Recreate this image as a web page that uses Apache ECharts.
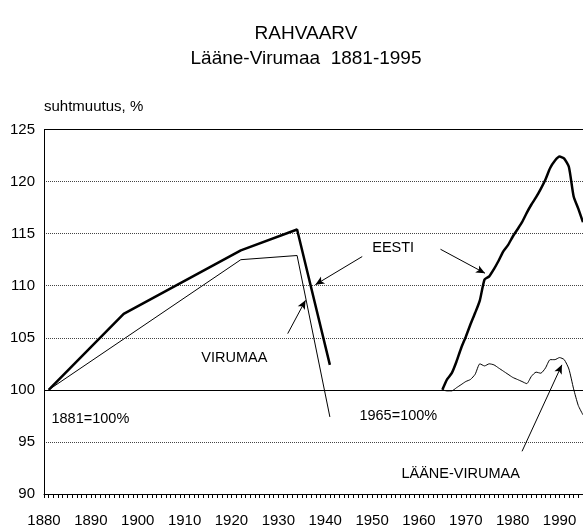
<!DOCTYPE html>
<html><head><meta charset="utf-8">
<script src="https://cdn.jsdelivr.net/npm/echarts@6/dist/echarts.min.js"></script>
<style>html,body{margin:0;padding:0;background:#fff}#c{width:583px;height:530px}</style>
</head><body><div id="c"></div>
<script>
const FONT = "'Liberation Sans', Arial, sans-serif";

// 1881 = 100% (census years)
const yearsEesti1881 = [1881, 1897, 1922, 1934, 1941];
const eesti1881 = [100, 107.3, 113.4, 115.4, 102.4];
const yearsVirumaa1881 = [1881, 1922, 1934, 1941];
const virumaa1881 = [100, 112.5, 112.9, 97.4];

// 1965 = 100%
const years1965 = [1965,1966,1967,1968,1969,1970,1971,1972,1973,1974,1975,1976,1977,1978,1979,1980,
                   1981,1982,1983,1984,1985,1986,1987,1988,1989,1990,1991,1992,1993,1994,1995];
const eesti1965 = [100.0,101.0,101.6,102.7,104.0,105.1,106.3,107.4,108.6,110.6,110.9,111.6,112.4,113.3,113.9,114.7,
                   115.4,116.1,117.0,117.8,118.5,119.3,120.2,121.3,122.0,122.4,122.2,121.4,118.6,117.4,116.1];
const laaneVirumaa1965 = [100.0,99.9,99.9,100.2,100.5,100.8,101.0,101.5,102.5,102.3,102.5,102.4,102.1,101.8,101.5,101.2,
                   101.0,100.8,100.6,101.3,101.7,101.6,102.1,102.9,102.9,103.1,102.9,102.0,100.1,98.5,97.6];

// axis ticks
const yTicks = [90, 95, 100, 105, 110, 115, 120, 125];
const xTicks = [1880, 1890, 1900, 1910, 1920, 1930, 1940, 1950, 1960, 1970, 1980, 1990, 2000];

// annotation texts (data coordinates of their centres)
const noteTexts = ['EESTI', 'VIRUMAA', '1881=100%', '1965=100%', 'LÄÄNE-VIRUMAA'];
const noteCoords = [[1954.5, 113.6], [1920.6, 103.1], [1889.9, 97.2], [1955.6, 97.5], [1968.9, 91.9]];
// arrows: [from, to]
const arrowFrom = [[1947.9, 112.8], [1964.6, 113.5], [1932.0, 105.4], [1982.0, 94.1]];
const arrowTo   = [[1937.9, 110.1], [1974.1, 111.2], [1935.8, 108.6], [1990.5, 102.4]];

const pair = (xs, ys) => xs.map((x, i) => [x, ys[i]]);

const chart = echarts.init(document.getElementById('c'), null, {renderer: 'canvas'});
const lineBase = {type: 'line', symbol: 'none', animation: false, silent: true, clip: true};

chart.setOption({
  backgroundColor: '#fff',
  animation: false,
  textStyle: {fontFamily: FONT},
  title: [
    {text: 'RAHVAARV', left: 301, top: 19, textAlign: 'center',
     textStyle: {fontFamily: FONT, fontSize: 19, fontWeight: 'normal', color: '#000'}},
    {text: 'Lääne-Virumaa  1881-1995', left: 301, top: 44, textAlign: 'center',
     textStyle: {fontFamily: FONT, fontSize: 19, fontWeight: 'normal', color: '#000'}}
  ],
  grid: {left: 44, top: 129.5, bottom: 36, right: -23.4, containLabel: false, outerBoundsMode: 'none'},
  xAxis: {
    type: 'value', min: xTicks[0], max: xTicks[xTicks.length - 1], interval: 10,
    axisLine: {show: true, lineStyle: {color: '#000', width: 1}},
    axisTick: {show: true, length: 4, lineStyle: {color: '#000'}},
    minorTick: {show: true, splitNumber: 10, length: 4, lineStyle: {color: '#000'}},
    splitLine: {show: false},
    axisLabel: {fontFamily: FONT, fontSize: 15, color: '#000', margin: 19, showMaxLabel: false,
                formatter: v => String(v)}
  },
  yAxis: {
    type: 'value', min: yTicks[0], max: yTicks[yTicks.length - 1], interval: 5,
    name: 'suhtmuutus, %', nameLocation: 'end', nameGap: 15,
    nameTextStyle: {fontFamily: FONT, fontSize: 15, color: '#000', align: 'left'},
    axisLine: {show: true, lineStyle: {color: '#000', width: 1}},
    axisTick: {show: false},
    splitLine: {show: true, lineStyle: {color: '#444', width: 1, type: [1, 1]}},
    axisLabel: {fontFamily: FONT, fontSize: 15, color: '#000', margin: 9}
  },
  series: [
    Object.assign({}, lineBase, {
      name: 'EESTI 1881', data: pair(yearsEesti1881, eesti1881),
      lineStyle: {color: '#000', width: 2.5},
      markLine: {
        silent: true, symbol: 'none', animation: false,
        label: {show: false},
        lineStyle: {color: '#000', width: 1, type: 'solid'},
        data: [{yAxis: 100}, {yAxis: 125}]
      }
    }),
    Object.assign({}, lineBase, {
      name: 'VIRUMAA 1881', data: pair(yearsVirumaa1881, virumaa1881),
      lineStyle: {color: '#000', width: 1},
      markLine: {
        silent: true, animation: false,
        symbol: ['none', 'arrow'], symbolSize: [6, 9],
        label: {show: false},
        lineStyle: {color: '#000', width: 1, type: 'solid'},
        data: arrowFrom.map((f, i) => [{coord: f}, {coord: arrowTo[i]}])
      }
    }),
    Object.assign({}, lineBase, {
      name: 'EESTI 1965', data: pair(years1965, eesti1965), smooth: 0.2,
      lineStyle: {color: '#000', width: 2.5}
    }),
    Object.assign({}, lineBase, {
      name: 'LÄÄNE-VIRUMAA 1965', data: pair(years1965, laaneVirumaa1965), smooth: 0.2,
      lineStyle: {color: '#000', width: 1}
    })
  ]
});

const graphics = noteTexts.map((t, i) => {
  const p = chart.convertToPixel({gridIndex: 0}, noteCoords[i]);
  return {type: 'text', x: p[0], y: p[1], silent: true,
          style: {text: t, fill: '#000', font: '14.5px ' + FONT, textAlign: 'center', textVerticalAlign: 'middle'}};
});
chart.setOption({graphic: graphics});
</script>
</body></html>
